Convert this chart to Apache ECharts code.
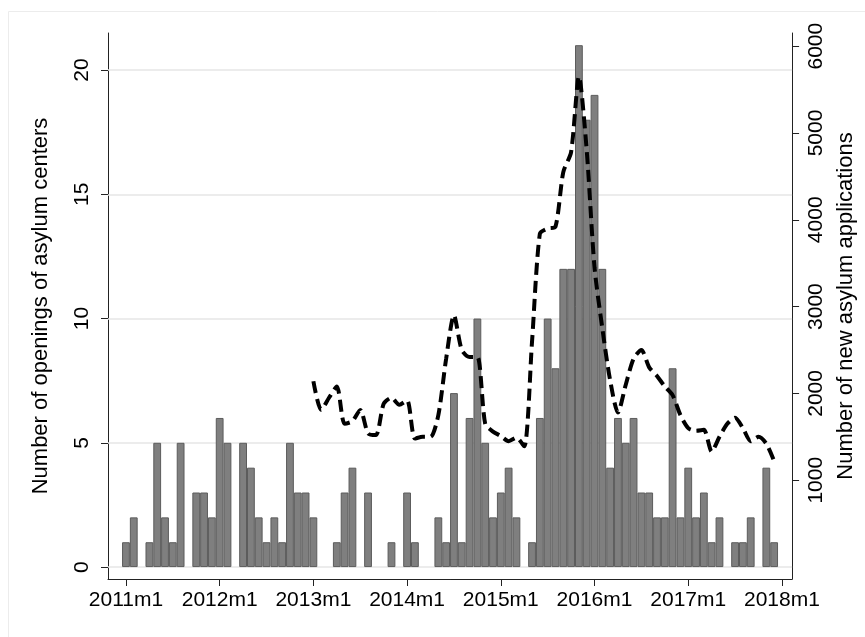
<!DOCTYPE html>
<html>
<head>
<meta charset="utf-8">
<script src="https://cdn.jsdelivr.net/npm/echarts@6/dist/echarts.min.js"></script>
<style>
html,body{margin:0;padding:0;background:#fff;}
#chart{width:865px;height:637px;}
</style>
</head>
<body>
<div id="chart"></div>
<script>
// Month index 0 = 2011m1
const tickMonths = [0, 12, 24, 36, 48, 60, 72, 84];
const tickLabels = ['2011m1', '2012m1', '2013m1', '2014m1', '2015m1', '2016m1', '2017m1', '2018m1'];
const leftTicks = [0, 5, 10, 15, 20];
const rightTicks = [1000, 2000, 3000, 4000, 5000, 6000];

// Number of openings of asylum centers, 2011m1 .. 2017m12
const openings = [
  1, 2, 0, 1, 5, 2, 1, 5, 0, 3, 3, 2,
  6, 5, 0, 5, 4, 2, 1, 2, 1, 5, 3, 3,
  2, 0, 0, 1, 3, 4, 0, 3, 0, 0, 1, 0,
  3, 1, 0, 0, 2, 1, 7, 1, 6, 10, 5, 2,
  3, 4, 2, 0, 1, 6, 10, 8, 12, 12, 21, 18,
  19, 12, 4, 6, 5, 6, 3, 3, 2, 2, 8, 2,
  4, 2, 3, 1, 2, 0, 1, 1, 2, 0, 4, 1
];

// Number of new asylum applications, 2013m1 .. 2017m12
const applicationsStart = 24;
const applications = [
  2140, 1810, 1950, 2080, 1650, 1680, 1810, 1540, 1520, 1880, 1950, 1870,
  1920, 1480, 1500, 1500, 1750, 2400, 2900, 2500, 2420, 2420, 1650, 1560,
  1510, 1450, 1490, 1390, 2600, 3840, 3900, 3920, 4550, 4780, 5650, 4800,
  3450, 2750, 2150, 1780, 2100, 2400, 2500, 2300, 2200, 2080, 1980, 1750,
  1600, 1570, 1580, 1330, 1500, 1650, 1720, 1600, 1450, 1500, 1420, 1220
];

const barData = openings.map((v, i) => [i, v === 0 ? null : v]);
const lineData = applications.map((v, i) => [applicationsStart + i, v]);

const FONT = 'Liberation Sans, Arial, sans-serif';
const chart = echarts.init(document.getElementById('chart'), null, {renderer: 'canvas'});

const option = {
  backgroundColor: '#fff',
  animation: false,
  graphic: [{
    type: 'rect', left: 6, top: 9, silent: true,
    shape: {width: 880, height: 700},
    style: {fill: 'none', stroke: '#ececec', lineWidth: 1}
  }],
  grid: {left: 108, right: 72, top: 33, bottom: 58, containLabel: false},
  xAxis: {
    type: 'value',
    min: -2.3,
    max: 85.3,
    splitLine: {show: false},
    axisLine: {show: true, onZero: false, lineStyle: {color: '#222', width: 1}},
    axisTick: {show: true, length: 7, customValues: tickMonths, lineStyle: {color: '#222'}},
    axisLabel: {
      customValues: tickMonths,
      margin: 11,
      color: '#000',
      fontFamily: FONT,
      fontSize: 21,
      formatter: v => tickLabels[tickMonths.indexOf(v)] || ''
    }
  },
  yAxis: [{
    type: 'value',
    position: 'left',
    min: -0.48,
    max: 21.49,
    splitLine: {show: false},
    axisLine: {show: true, onZero: false, lineStyle: {color: '#222', width: 1}},
    axisTick: {show: true, length: 7, customValues: leftTicks, lineStyle: {color: '#222'}},
    axisLabel: {
      customValues: leftTicks,
      rotate: 90,
      margin: 15,
      color: '#000',
      fontFamily: FONT,
      fontSize: 21
    },
    name: 'Number of openings of asylum centers',
    nameLocation: 'middle',
    nameRotate: 90,
    nameGap: 56,
    nameTextStyle: {color: '#000', fontFamily: FONT, fontSize: 22}
  }, {
    type: 'value',
    position: 'right',
    min: -138,
    max: 6152,
    splitLine: {show: false},
    axisLine: {show: true, onZero: false, lineStyle: {color: '#222', width: 1}},
    axisTick: {show: true, length: 7, customValues: rightTicks, lineStyle: {color: '#222'}},
    axisLabel: {
      customValues: rightTicks,
      rotate: 90,
      margin: 14,
      color: '#000',
      fontFamily: FONT,
      fontSize: 21,
      formatter: v => String(v)
    },
    name: 'Number of new asylum applications',
    nameLocation: 'middle',
    nameRotate: 90,
    nameGap: 38,
    nameTextStyle: {color: '#000', fontFamily: FONT, fontSize: 22}
  }],
  series: [{
    type: 'bar',
    yAxisIndex: 0,
    data: barData,
    barWidth: 7.8,
    z: 2,
    itemStyle: {color: '#7f7f7f', borderColor: '#5c5c5c', borderWidth: 1},
    markLine: {
      silent: true,
      symbol: ['none', 'none'],
      z: 1,
      label: {show: false},
      lineStyle: {color: '#e6e6e6', type: 'solid', width: 1.5},
      data: leftTicks.map(t => ({yAxis: t}))
    }
  }, {
    type: 'line',
    yAxisIndex: 1,
    data: lineData,
    showSymbol: false,
    symbol: 'none',
    smooth: 0.25,
    z: 3,
    lineStyle: {color: '#000', width: 4, type: [12, 6]}
  }]
};
chart.setOption(option);
</script>
</body>
</html>
